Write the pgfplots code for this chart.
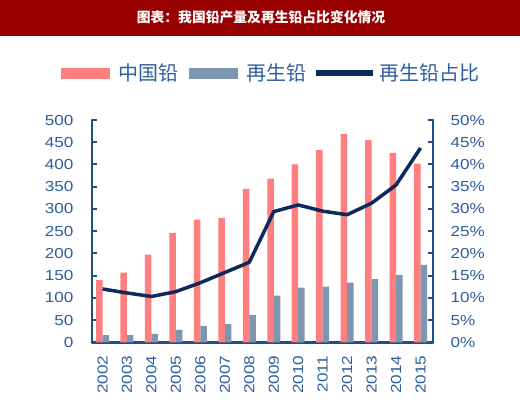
\documentclass[border=0pt]{standalone}
\usepackage{fontspec}
\setmainfont{Liberation Sans}[FakeStretch=1.18]
\newfontfamily\cjk{Noto Sans CJK SC}
\usepackage{pgfplots}
\pgfplotsset{compat=1.18}
\definecolor{titlered}{HTML}{990000}
\definecolor{barpink}{HTML}{FF7F7F}
\definecolor{bargray}{HTML}{7F96B0}
\definecolor{navy}{HTML}{0C2B5B}
\definecolor{axblue}{HTML}{1F4E8C}
\definecolor{txtblue}{HTML}{2E5E9E}
\begin{document}
\begin{tikzpicture}[x=1bp,y=1bp]
\useasboundingbox (0,0) rectangle (520,-399);
\fill[white] (0,0) rectangle (520,-399);
\fill[titlered] (0,0) rectangle (520,-36);
\node[text=white, font=\cjk\bfseries\fontsize{13.8bp}{16bp}\selectfont] at (261,-17.5) {图表：我国铅产量及再生铅占比变化情况};
\pgfplotsset{
  common/.style={
    scale only axis, width=341bp, height=222.3bp,
    at={(92bp,-342.3bp)}, anchor=south west,
    xmin=-0.43, xmax=13.51,
    axis line style={axblue, line width=2.5bp, line join=round, line cap=round},
    tick style={axblue, line width=2bp},
    tick align=inside,
    major tick length=5bp,
    font=\fontsize{14.5bp}{17bp}\selectfont,
    tick label style={text=txtblue, inner sep=0pt},
  }
}
\begin{axis}[common,
  axis y line*=left, axis x line*=bottom,
  ymin=0, ymax=500,
  ytick={0,50,...,500},
  yticklabels={0,50,100,150,200,250,300,350,400,450,500},
  yticklabel shift=18.5bp,
  xtick={0,...,13},
  xticklabels={2002,2003,2004,2005,2006,2007,2008,2009,2010,2011,2012,2013,2014,2015},
  x tick style={draw=none},
  xticklabel style={rotate=90, anchor=east},
  xticklabel shift=8bp,
  ybar=0pt, bar width=6.5bp,
]
\addplot[fill=barpink, draw=none] coordinates {(0,140) (1,157) (2,197) (3,246) (4,276) (5,280) (6,345) (7,368) (8,400) (9,432) (10,468) (11,455) (12,426) (13,402)};
\addplot[fill=bargray, draw=none] coordinates {(0,16) (1,16) (2,19) (3,28) (4,37) (5,41) (6,62) (7,105) (8,123) (9,125) (10,134) (11,142) (12,151) (13,174)};
\end{axis}
\begin{axis}[common,
  axis y line*=right, axis x line=none,
  ymin=0, ymax=50,
  ytick={0,5,...,50},
  yticklabels={0\%,5\%,10\%,15\%,20\%,25\%,30\%,35\%,40\%,45\%,50\%},
  yticklabel shift=17.5bp,
  legend columns=3,
  legend style={at={(-0.0909,1.21)}, anchor=west, draw=none, fill=none, inner sep=0pt,
    font=\cjk\fontsize{20bp}{22bp}\selectfont, text=txtblue,
    nodes={inner sep=0pt},
    /tikz/column 2/.style={column sep=11bp},
    /tikz/column 4/.style={column sep=7bp}},
]
\addlegendimage{fill=barpink, draw=none, legend image code/.code={\fill[barpink] (0bp,-5.5bp) rectangle (49bp,5.5bp); \path (57bp,0bp);}}
\addlegendentry{中国铅}
\addlegendimage{fill=bargray, draw=none, legend image code/.code={\fill[bargray] (0bp,-5.5bp) rectangle (49bp,5.5bp); \path (57bp,0bp);}}
\addlegendentry{再生铅}
\addplot[navy, line width=3.5bp, line join=round, mark=none,
  legend image code/.code={\draw[navy, line width=6bp] (0bp,0bp) -- (57bp,0bp); \path (62bp,0bp);}]
  coordinates {(0,12.0) (1,11.1) (2,10.3) (3,11.4) (4,13.4) (5,15.7) (6,18.0) (7,29.4) (8,30.9) (9,29.5) (10,28.7) (11,31.3) (12,35.4) (13,43.7)};
\addlegendentry{再生铅占比}
\end{axis}
\end{tikzpicture}
\end{document}
